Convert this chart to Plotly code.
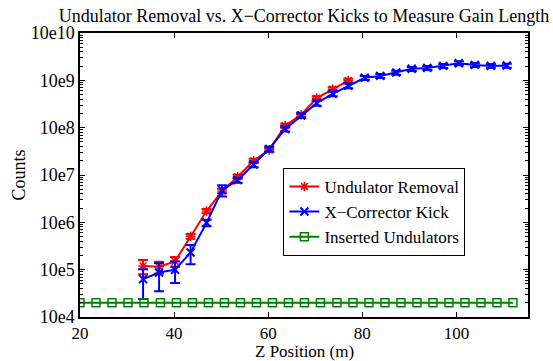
import plotly.graph_objects as go

# Z positions (m) of the undulator/corrector measurements
z_meas = [33.4, 36.8, 40.2, 43.5, 46.9, 50.2, 53.5, 56.9, 60.2, 63.6, 67.0, 70.3,
          73.7, 77.0, 80.5, 83.8, 87.2, 90.5, 93.8, 97.2, 100.5, 103.9, 107.3, 110.7]

# Undulator removal scan (counts) and its errors
removal_z = z_meas[:14]
removal_counts = [1.2e5, 1.15e5, 1.5e5, 5.1e5, 1.73e6, 4.6e6, 9.2e6, 2.0e7,
                  3.4e7, 1.1e8, 1.88e8, 4.2e8, 6.5e8, 9.9e8]
removal_err = [4.0e4, 3.2e4, 3.5e4, 6e4, 1.8e5, 5e5, 9e5, 2.0e6,
               3.4e6, 1.1e7, 1.8e7, 4e7, 6e7, 9e7]

# X-corrector kick scan (counts) and its errors
kick_counts = [6.3e4, 8.7e4, 1.0e5, 2.3e5, 9.8e5, 4.8e6, 7.8e6, 1.66e7, 3.55e7,
               9.4e7, 1.8e8, 3.3e8, 5.2e8, 7.7e8, 1.13e9, 1.24e9, 1.46e9, 1.75e9,
               1.83e9, 2.02e9, 2.3e9, 2.12e9, 2.02e9, 2.05e9]
kick_err = [3.9e4, 5.2e4, 4.8e4, 1.0e5, 1.5e5, 1.3e6, 9e5, 2.0e6, 4e6,
            1.1e7, 2.0e7, 4e7, 6e7, 9e7, 1.1e8, 1.2e8, 1.4e8, 1.7e8,
            1.8e8, 2.0e8, 2.2e8, 2.0e8, 2.0e8, 2.0e8]

# Inserted undulators baseline
inserted_z = [20.0, 23.4, 26.8, 30.2, 33.6, 37.1, 40.5, 43.9, 47.3, 50.7, 54.1,
              57.5, 60.9, 64.3, 67.7, 71.1, 74.6, 78.0, 81.4, 84.8, 88.2, 91.6,
              95.0, 98.4, 101.8, 105.2, 108.6, 112.0]
inserted_counts = [2.0e4] * len(inserted_z)

y_tickvals = [1e4, 1e5, 1e6, 1e7, 1e8, 1e9, 1e10]
y_ticktext = ["10e4", "10e5", "10e6", "10e7", "10e8", "10e9", "10e10"]
x_tickvals = [20, 40, 60, 80, 100]

FONT = "Liberation Serif"
RED = "#ff0000"
BLUE = "#0000ff"
GREEN = "#008000"

fig = go.Figure()

fig.add_trace(go.Scatter(
    x=removal_z, y=removal_counts, name="Undulator Removal",
    mode="lines+markers",
    line=dict(color=RED, width=2),
    marker=dict(symbol="asterisk-open", size=8, color=RED, line=dict(color=RED, width=1.5)),
    error_y=dict(type="data", array=removal_err, color=RED, thickness=2, width=5),
))

fig.add_trace(go.Scatter(
    x=z_meas, y=kick_counts, name="X\u2212Corrector Kick",
    mode="lines+markers",
    line=dict(color=BLUE, width=2),
    marker=dict(symbol="x-thin-open", size=8, color=BLUE, line=dict(color=BLUE, width=2)),
    error_y=dict(type="data", array=kick_err, color=BLUE, thickness=2, width=5),
))

fig.add_trace(go.Scatter(
    x=inserted_z, y=inserted_counts, name="Inserted Undulators",
    mode="lines+markers",
    line=dict(color=GREEN, width=2),
    marker=dict(symbol="square-open", size=8, color=GREEN, line=dict(color=GREEN, width=1.5)),
))

fig.update_layout(
    width=553, height=361,
    margin=dict(l=80, r=25, t=33, b=44),
    paper_bgcolor="white", plot_bgcolor="white",
    font=dict(family=FONT, size=18, color="black"),
    title=dict(
        text="Undulator Removal vs. X\u2212Corrector Kicks to Measure Gain Length",
        x=0.5, xref="paper", xanchor="center",
        y=1 - 16 / 361, yref="container", yanchor="middle",
        font=dict(family=FONT, size=18, color="black"),
    ),
    showlegend=True,
    legend=dict(
        x=0.454, y=0.525, xanchor="left", yanchor="top",
        bgcolor="white", bordercolor="black", borderwidth=1,
        font=dict(family=FONT, size=17, color="black"),
        tracegroupgap=0, itemwidth=30,
    ),
    # x-axis label placed just under the tick labels
    annotations=[dict(
        text="Z Position (m)", xref="paper", yref="paper",
        x=0.5, y=-0.1215, xanchor="center", yanchor="middle",
        showarrow=False, borderpad=0,
        font=dict(family=FONT, size=17, color="black"),
    )],
)

fig.update_xaxes(
    range=[20, 115.2], tickvals=x_tickvals, automargin=False,
    showline=True, linecolor="black", linewidth=1.5, mirror="ticks",
    ticks="inside", ticklen=5, tickcolor="black",
    showgrid=False, zeroline=False,
    tickfont=dict(family=FONT, size=17),
)

fig.update_yaxes(
    type="log", range=[4, 10], automargin=False,
    tickvals=y_tickvals, ticktext=y_ticktext,
    showline=True, linecolor="black", linewidth=1.5, mirror="ticks",
    ticks="inside", ticklen=5, tickcolor="black",
    minor=dict(ticks="inside", ticklen=3, tickwidth=1, tickcolor="black",
               dtick="D1", showgrid=False),
    showgrid=False, zeroline=False,
    tickfont=dict(family=FONT, size=18),
    title=dict(text="Counts", font=dict(family=FONT, size=18), standoff=0),
)

fig.write_html("out.html")
